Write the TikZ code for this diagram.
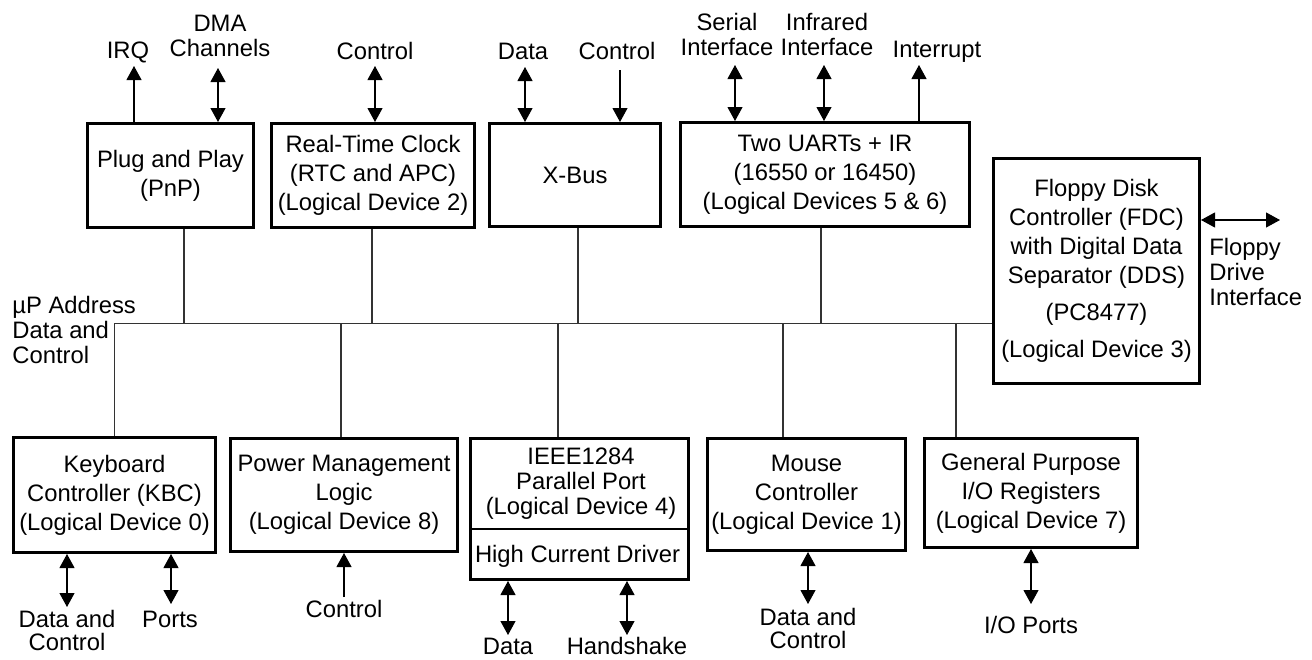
\documentclass[tikz,border=0pt]{standalone}
\usepackage{fontspec}
\setmainfont{Liberation Sans}
\usetikzlibrary{arrows.meta,positioning}
\tikzset{>={Triangle[length=7pt,width=7.5pt]}}
\tikzset{
  block/.style={draw, line width=1.5pt, align=center, inner sep=0pt},
  tag/.style={align=center, inner sep=0pt, anchor=base,
    font=\fontsize{11.9}{12.5}\selectfont},
  bus/.style={line width=0.55pt, black!80},
  link/.style={line width=0.55pt}
}

\begin{document}
\begin{tikzpicture}[x=0.5pt, y=-0.5pt, font=\fontsize{11.9}{14.5}\selectfont]
  \useasboundingbox (0,0) rectangle (1312,659);

  % top row
  \node[block, minimum width=83pt, minimum height=52pt] (pnp) at (170.5,175.5)
    {Plug and Play\\(PnP)};
  \node[block, minimum width=101.5pt, minimum height=52pt] (rtc) at (373,175.5)
    {Real-Time Clock\\(RTC and APC)\\(Logical Device 2)};
  \node[block, minimum width=85.5pt, minimum height=51.5pt] (xbus) at (575,175)
    {X-Bus};
  \node[block, minimum width=144.5pt, minimum height=52pt] (uart) at (825,174.5)
    {Two UARTs + IR\\(16550 or 16450)\\(Logical Devices 5 \& 6)};
  \node[block, minimum width=103pt, minimum height=112.5pt] (fdc) at (1096.5,271)
    {Floppy Disk\\Controller (FDC)\\with Digital Data\\Separator (DDS)\\[4pt]
     (PC8477)\\[4pt](Logical Device 3)};

  % bottom row
  \node[block, minimum width=101pt, minimum height=57.5pt] (kbc) at (114.5,495)
    {Keyboard\\Controller (KBC)\\(Logical Device 0)};
  \node[block, minimum width=113.5pt, minimum height=56.5pt] (pm) at (344,495)
    {Power Management\\Logic\\(Logical Device 8)};
  \node[block, minimum width=109pt, minimum height=70.5pt] (ieee) at (579.5,509) {};
  \node[tag, anchor=center, font=\fontsize{11.9}{12.5}\selectfont] (ieeetext) at (581,484)
    {IEEE1284\\Parallel Port\\(Logical Device 4)};
  \node[tag, anchor=center] (hcd) at (577.5,556) {High Current Driver};
  \draw[link] (ieee.west |- 0,529) -- (ieee.east |- 0,529);
  \node[block, minimum width=99pt, minimum height=56pt] (mouse) at (806.5,494.5)
    {Mouse\\Controller\\(Logical Device 1)};
  \node[block, minimum width=106.5pt, minimum height=54.5pt] (gpio) at (1031,493)
    {General Purpose\\I/O Registers\\(Logical Device 7)};

  % bus
  \coordinate (busL) at (113,323.5);
  \node[tag, align=left, anchor=base west] (cpu) at (12,363)
    {\textmu P Address\\Data and\\Control};
  \draw[bus] (kbc.north) |- (busL -| fdc.west);
  \foreach \n/\x in {pnp/184, rtc/372, xbus/578, uart/821}
    \draw[bus] (\x,0 |- \n.south) -- (\x,0 |- busL);
  \foreach \n/\x in {pm/341, ieee/558, mouse/783, gpio/956}
    \draw[bus] (\x,0 |- busL) -- (\x,0 |- \n.north);

  % top signals
  \node[tag] (irq) at (128,58) {IRQ};
  \node[tag] (dma) at (220,56) {DMA\\Channels};
  \node[tag] (rtcctl) at (375,59) {Control};
  \node[tag] (xdata) at (523,59) {Data};
  \node[tag] (xctl) at (617,59) {Control};
  \node[tag] (serial) at (727,55) {Serial\\Interface};
  \node[tag] (infra) at (827,55) {Infrared\\Interface};
  \node[tag] (intr) at (937,57) {Interrupt};
  \coordinate (irqtip) at (134,66);
  \coordinate (dmatip) at (218,68);
  \coordinate (rtctip) at (375,66);
  \coordinate (xdatatip) at (525,67);
  \coordinate (xctltip) at (620,70);
  \coordinate (serialtip) at (735,65);
  \coordinate (infratip) at (824,65);
  \coordinate (intrtip) at (919,65);
  \draw[link,->] (pnp.north -| irqtip) -- (irqtip);
  \draw[link,<->] (pnp.north -| dmatip) -- (dmatip);
  \draw[link,<->] (rtc.north -| rtctip) -- (rtctip);
  \draw[link,<->] (xbus.north -| xdatatip) -- (xdatatip);
  \draw[link,->] (xctltip) -- (xbus.north -| xctltip);
  \draw[link,<->] (uart.north -| serialtip) -- (serialtip);
  \draw[link,<->] (uart.north -| infratip) -- (infratip);
  \draw[link,->] (uart.north -| intrtip) -- (intrtip);

  % floppy side
  \node[tag, align=left, anchor=base west] (floppy) at (1209,305)
    {Floppy\\Drive\\Interface};
  \coordinate (fddtip) at (1280,220);
  \draw[link,<->] (fdc.east |- fddtip) -- (fddtip);

  % bottom signals
  \node[tag] (kbcdata) at (67,650) {Data and\\[-1pt]Control};
  \node[tag] (ports) at (170,627) {Ports};
  \node[tag] (pmctl) at (344,617) {Control};
  \node[tag] (pdata) at (508,654) {Data};
  \node[tag] (hshake) at (627,654) {Handshake};
  \node[tag] (msdata) at (808,648) {Data and\\[-1pt]Control};
  \node[tag] (ioports) at (1031,633) {I/O Ports};
  \coordinate (kbctip) at (67,607);
  \coordinate (portstip) at (171,604);
  \coordinate (pmtip) at (344,597);
  \coordinate (pdatatip) at (508,635);
  \coordinate (hshaketip) at (627,635);
  \coordinate (mstip) at (808,604);
  \coordinate (iotip) at (1031,604);
  \draw[link,<->] (kbc.south -| kbctip) -- (kbctip);
  \draw[link,<->] (kbc.south -| portstip) -- (portstip);
  \draw[link,->] (pmtip) -- (pm.south -| pmtip);
  \draw[link,<->] (ieee.south -| pdatatip) -- (pdatatip);
  \draw[link,<->] (ieee.south -| hshaketip) -- (hshaketip);
  \draw[link,<->] (mouse.south -| mstip) -- (mstip);
  \draw[link,<->] (gpio.south -| iotip) -- (iotip);
\end{tikzpicture}
\end{document}
